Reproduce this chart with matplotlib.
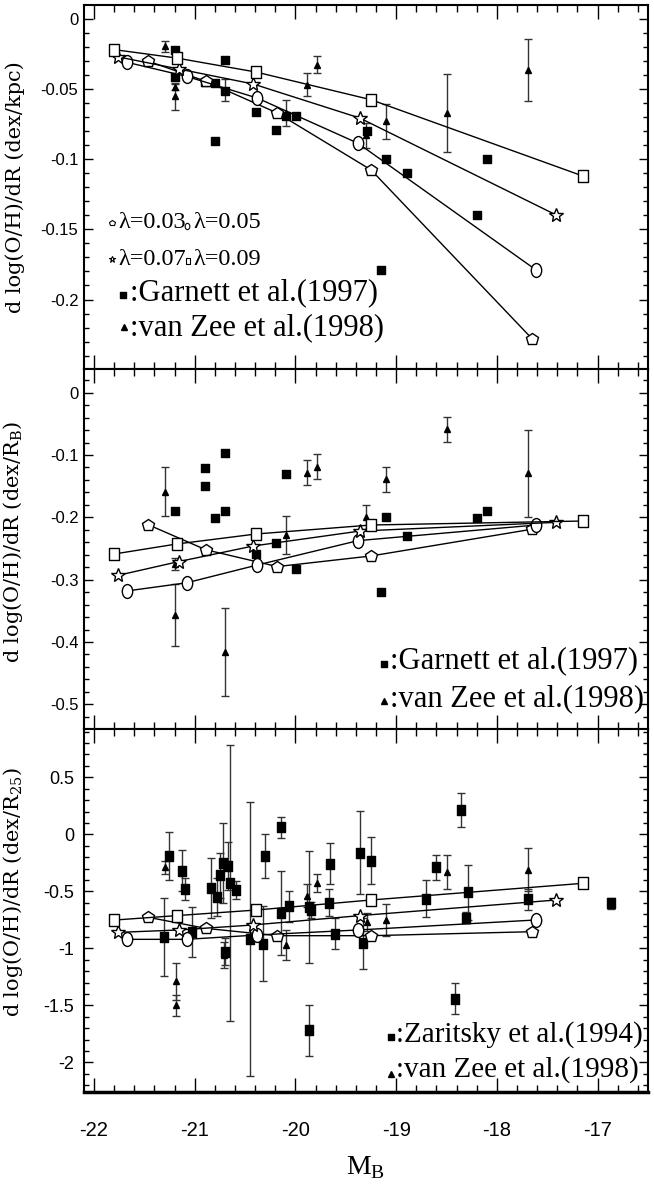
"""
    Abundance gradients vs. M_B: models for several lambda plus observations
"""

import matplotlib
matplotlib.use('Agg')
import matplotlib.pyplot as plt
from matplotlib.path import Path
from matplotlib.transforms import Affine2D
from matplotlib.ticker import MultipleLocator, FuncFormatter

plt.rcParams['mathtext.fontset'] = 'dejavuserif'
plt.rcParams['axes.unicode_minus'] = False

# ---- model magnitudes (same for every panel)
mb_l03 = [-21.46, -20.89, -20.18, -19.25, -17.65]
mb_l05 = [-21.67, -21.08, -20.38, -19.38, -17.61]
mb_l07 = [-21.76, -21.16, -20.42, -19.36, -17.41]
mb_l09 = [-21.80, -21.18, -20.39, -19.25, -17.15]

# ---- model gradients, dex/kpc
kpc_l03 = [-0.0302, -0.0445, -0.0671, -0.1076, -0.228]
kpc_l05 = [-0.031, -0.041, -0.0564, -0.0886, -0.179]
kpc_l07 = [-0.0271, -0.0357, -0.0464, -0.0707, -0.1398]
kpc_l09 = [-0.0219, -0.0279, -0.0379, -0.0576, -0.1119]

# ---- model gradients, dex/R_B
rb_l03 = [-0.212, -0.252, -0.279, -0.262, -0.219]
rb_l05 = [-0.318, -0.305, -0.2765, -0.2374, -0.2123]
rb_l07 = [-0.293, -0.271, -0.246, -0.222, -0.208]
rb_l09 = [-0.2588, -0.2428, -0.2267, -0.2123, -0.2059]

# ---- model gradients, dex/R25
r25_l03 = [-0.728, -0.825, -0.889, -0.889, -0.854]
r25_l05 = [-0.921, -0.921, -0.883, -0.839, -0.751]
r25_l07 = [-0.86, -0.839, -0.795, -0.713, -0.576]
r25_l09 = [-0.752, -0.713, -0.664, -0.576, -0.43]

# ---- Garnett et al. (1997)
garn_mb = [-21.2, -21.2, -20.9, -20.8, -20.7, -20.7, -20.8, -20.39, -20.19,
           -20.09, -19.99, -19.29, -19.15, -19.1, -18.89, -18.2, -18.1]
garn_kpc = [-0.0224, -0.0414, -0.0452, -0.0457, -0.0295, -0.0517, -0.0867,
            -0.0664, -0.0795, -0.0695, -0.0695, -0.0802, -0.179, -0.0998,
            -0.1095, -0.1398, -0.0998]
garnB_mb = [-21.2, -20.9, -20.9, -20.8, -20.7, -20.7, -20.39, -20.19, -20.09,
            -19.99, -19.15, -19.1, -18.89, -18.2, -18.1]
garnB_rb = [-0.1898, -0.1203, -0.1492, -0.2005, -0.0963, -0.1898, -0.2594,
            -0.2406, -0.1305, -0.283, -0.32, -0.2, -0.2294, -0.2005, -0.1898]

# ---- van Zee et al. (1998)
vz_mb = [-21.3, -21.2, -21.2, -20.7, -20.09, -19.89, -19.79, -19.3, -19.1,
         -18.5, -17.69]
vz_kpc = [-0.0195, -0.0486, -0.0552, -0.0505, -0.0671, -0.0469, -0.0326,
          -0.083, -0.0731, -0.0671, -0.0362]
vz_kpc_err = [0.0038, 0.0024, 0.0095, 0.008, 0.009, 0.008, 0.006, 0.009,
              0.0127, 0.0277, 0.022]
vz_rb = [-0.1588, -0.275, -0.357, -0.416, -0.2283, -0.1283, -0.1187, -0.199,
         -0.139, -0.0588, -0.1294]
vz_rb_err = [0.0393, 0.01, 0.05, 0.07, 0.0307, 0.0203, 0.02, 0.0195, 0.02,
             0.02, 0.07]
vz25_mb = [-21.3, -21.19, -21.19, -20.71, -20.09, -19.89, -19.79, -19.29,
           -19.1, -18.5, -17.69]
vz25_r25 = [-0.29, -1.29, -1.50, -1.06, -0.97, -0.54, -0.43, -0.77, -0.75,
            -0.33, -0.31]
vz25_err = [0.06, 0.16, 0.09, 0.115, 0.135, 0.10, 0.08, 0.08, 0.14, 0.15, 0.19]

# ---- Zaritsky et al. (1994)
zar_mb = [-21.26, -21.31, -21.13, -21.10, -21.03, -20.84, -20.78, -20.75,
          -20.72, -20.67, -20.65, -20.59, -20.70, -20.45, -20.32, -20.30,
          -20.14, -20.14, -20.06, -19.87, -19.85, -19.87, -19.67, -19.66,
          -19.61, -19.36, -19.33, -19.25, -18.70, -18.60, -18.36, -18.29,
          -18.31, -17.69, -16.87, -18.42]
zar_r25 = [-0.187, -0.90, -0.32, -0.48, -0.86, -0.47, -0.55, -0.36, -0.25,
           -0.28, -0.43, -0.49, -1.03, -0.92, -0.96, -0.19, 0.06, -0.69,
           -0.63, -0.64, -0.66, -1.72, -0.60, -0.26, -0.87, -0.16, -0.955,
           -0.23, -0.565, -0.29, 0.215, -0.51, -0.73, -0.57, -0.605, -1.44]
zar_err = [0.21, 0.34, 0.18, 0.10, 0.22, 0.26, 0.17, 0.20, 0.35, 0.21, 1.21,
           0.08, 0.12, 1.20, 0.33, 0.19, 0.095, 0.37, 0.135, 0.49, 0.07, 0.22,
           0.12, 0.18, 0.134, 0.366, 0.225, 0.21, 0.16, 0.11, 0.148, 0.24,
           0.05, 0.09, 0.05, 0.14]

xticks_major = [-22, -21, -20, -19, -18, -17]

# marker shapes: tall ellipse and tall rectangles like the original
ellipse = Path.unit_circle().transformed(Affine2D().scale(0.75, 1.0))
rect = Path.unit_rectangle().transformed(Affine2D().translate(-0.5, -0.5).scale(0.85, 1.0))

serif = 'Liberation Serif'
narrow = ['Liberation Sans Narrow', 'Liberation Sans', 'DejaVu Sans']

fig = plt.figure(figsize=(6.54, 11.88), dpi=100)
ax1 = fig.add_axes([0.1284, 0.6894, 0.8624, 0.3064])
ax2 = fig.add_axes([0.1284, 0.3864, 0.8624, 0.3030])
ax3 = fig.add_axes([0.1284, 0.0808, 0.8624, 0.3056])

ebar = dict(fmt='none', ecolor='#333333', elinewidth=1, capsize=3.2,
            capthick=1, zorder=2)


def models(ax, l03, l05, l07, l09):
    kw = dict(color='black', lw=1, mfc='white', mec='black', mew=1, zorder=4)
    ax.plot(mb_l03, l03, marker='p', ms=9, **kw)
    ax.plot(mb_l05, l05, marker=ellipse, ms=10, **kw)
    ax.plot(mb_l07, l07, marker='*', ms=10, **kw)
    ax.plot(mb_l09, l09, marker=rect, ms=8.5, **kw)


def style(ax, ylim, ymaj, ymin, ylabel, narrow_y=False, ylabel_y=0.5):
    ax.set_xlim(-22.1, -16.5)
    ax.set_ylim(*ylim)
    ax.xaxis.set_major_locator(MultipleLocator(1))
    ax.xaxis.set_minor_locator(MultipleLocator(0.2))
    ax.yaxis.set_major_locator(MultipleLocator(ymaj))
    ax.yaxis.set_minor_locator(MultipleLocator(ymin))
    fmt = FuncFormatter(lambda v, p: '%g' % round(v, 4))
    ax.xaxis.set_major_formatter(fmt)
    ax.yaxis.set_major_formatter(fmt)
    ax.tick_params(which='both', direction='in', top=True, right=True, width=1)
    ax.tick_params(axis='x', which='major', length=10)
    ax.tick_params(axis='x', which='minor', length=5)
    ax.tick_params(axis='y', which='major', length=6.5)
    ax.tick_params(axis='y', which='minor', length=3.3)
    if narrow_y:
        ax.tick_params(axis='y', labelsize=13, pad=7, labelfontfamily=narrow)
    else:
        ax.tick_params(axis='y', labelsize=12, pad=4,
                       labelfontfamily='Liberation Sans')
    for s in ax.spines.values():
        s.set_linewidth(1.5)
    ax.set_ylabel(ylabel, family='DejaVu Serif', fontsize=15)
    ax.yaxis.set_label_coords(-0.105, ylabel_y)


# ---------------- top panel: dex/kpc
ax = ax1
ax.errorbar(vz_mb, vz_kpc, yerr=vz_kpc_err, **ebar)
ax.plot(vz_mb, vz_kpc, '^', color='black', ms=5, zorder=3)
ax.plot(garn_mb, garn_kpc, marker=rect, ls='none', color='black', ms=6, zorder=3)
models(ax, kpc_l03, kpc_l05, kpc_l07, kpc_l09)
style(ax, (-0.2495, 0.0099), 0.05, 0.01, 'd log(O/H)/dR (dex/kpc)')
ax.tick_params(axis='x', labelbottom=False)

key = dict(transform=ax.transAxes, color='black', mfc='white', mec='black',
           mew=0.8, ls='none', clip_on=False)
ax.plot(0.049, 0.401, marker='p', ms=4, **key)
ax.plot(0.1826, 0.393, marker=ellipse, ms=4.5, **key)
ax.plot(0.0496, 0.302, marker='*', ms=5, **key)
ax.plot(0.1844, 0.2967, marker=rect, ms=4, **key)
ax.plot(0.0691, 0.2033, marker=rect, ms=4.5, ls='none', color='black',
        transform=ax.transAxes)
ax.plot(0.0709, 0.1154, marker='^', ms=4.5, ls='none', color='black',
        transform=ax.transAxes)
tk = dict(transform=ax.transAxes, family=serif, va='baseline', ha='left')
ax.text(0.0603, 0.387, '\u03bb=0.03', fontsize=17.5, **tk)
ax.text(0.1933, 0.387, '\u03bb=0.05', fontsize=17.5, **tk)
ax.text(0.0603, 0.2857, '\u03bb=0.07', fontsize=17.5, **tk)
ax.text(0.1933, 0.2857, '\u03bb=0.09', fontsize=17.5, **tk)
ax.text(0.0816, 0.1896, ':Garnett et al.(1997)', fontsize=22, **tk)
ax.text(0.0816, 0.0934, ':van Zee et al.(1998)', fontsize=22, **tk)

# ---------------- middle panel: dex/R_B
ax = ax2
ax.errorbar(vz_mb, vz_rb, yerr=vz_rb_err, **ebar)
ax.plot(vz_mb, vz_rb, '^', color='black', ms=5, zorder=3)
ax.plot(garnB_mb, garnB_rb, marker=rect, ls='none', color='black', ms=6, zorder=3)
models(ax, rb_l03, rb_l05, rb_l07, rb_l09)
style(ax, (-0.5395, 0.038), 0.1, 0.02,
      r'd log(O/H)/dR (dex/R$_\mathregular{B}$)', ylabel_y=0.52)
ax.tick_params(axis='x', labelbottom=False)

ax.plot(0.532, 0.181, marker=rect, ms=4.5, ls='none', color='black',
        transform=ax.transAxes)
ax.plot(0.532, 0.078, marker='^', ms=4.5, ls='none', color='black',
        transform=ax.transAxes)
tk = dict(transform=ax.transAxes, family=serif, va='baseline', ha='left')
ax.text(0.5426, 0.169, ':Garnett et al.(1997)', fontsize=22, **tk)
ax.text(0.5426, 0.064, ':van Zee et al.(1998)', fontsize=22, **tk)

# ---------------- bottom panel: dex/R25
ax = ax3
ax.errorbar(zar_mb, zar_r25, yerr=zar_err, **ebar)
ax.errorbar(vz25_mb, vz25_r25, yerr=vz25_err, **ebar)
ax.plot(zar_mb, zar_r25, marker=rect, ls='none', color='black', ms=6.5, zorder=3)
ax.plot(vz25_mb, vz25_r25, '^', color='black', ms=5, zorder=3)
models(ax, r25_l03, r25_l05, r25_l07, r25_l09)
style(ax, (-2.26, 0.924), 0.5, 0.1,
      r'd log(O/H)/dR (dex/R$_\mathregular{25}$)', narrow_y=True, ylabel_y=0.55)
ax.set_xticks(xticks_major)
ax.xaxis.set_minor_locator(MultipleLocator(0.2))
ax.tick_params(axis='x', labelsize=14.5, pad=21, labelfontfamily=narrow)
ax.spines['bottom'].set_linewidth(2.5)
ax.set_xlabel(r'M$_\mathregular{B}$', family=serif, fontsize=20, labelpad=10)

ax.plot(0.544, 0.1515, marker=rect, ms=4.5, ls='none', color='black',
        transform=ax.transAxes)
ax.plot(0.544, 0.0496, marker='^', ms=4.5, ls='none', color='black',
        transform=ax.transAxes)
tk = dict(transform=ax.transAxes, family=serif, va='baseline', ha='left')
ax.text(0.553, 0.138, ':Zaritsky et al.(1994)', fontsize=21, **tk)
ax.text(0.553, 0.041, ':van Zee et al.(1998)', fontsize=21, **tk)

fig.savefig('out.png', dpi=100)
